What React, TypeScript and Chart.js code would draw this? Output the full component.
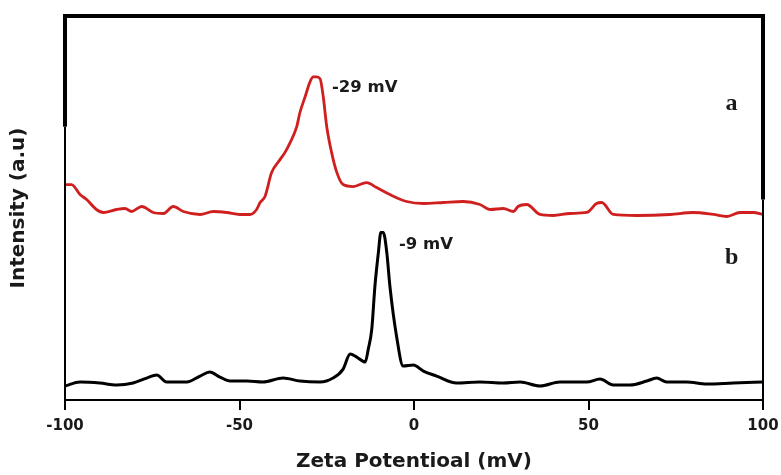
import React, { useEffect, useRef } from "react";
import { Chart, registerables } from "chart.js";

Chart.register(...registerables);

// Curve a (red)
const redX = [-100, -98.1, -95.7, -93.8, -91.0, -89.0, -85.2, -82.8, -80.9, -78.0, -74.7, -71.8, -69.0, -66.1, -61.3, -57.5, -53.7, -49.9, -47.0, -45.1, -44.1, -42.7, -40.8, -38.4, -37.0, -35.5, -33.6, -32.7, -31.2, -29.8, -28.9, -27.9, -26.9, -26.0, -25.0, -23.6, -22.1, -20.3, -17.4, -13.6, -10.7, -6.9, -2.1, 2.7, 8.4, 14.1, 18.9, 21.8, 25.6, 28.5, 29.8, 32.3, 36.1, 39.9, 44.7, 49.5, 52.3, 53.8, 57.1, 63.8, 73.4, 80.0, 85.8, 89.6, 93.4, 97.2, 100];
const redY = [215, 215, 205, 200, 190, 187, 190, 191, 188, 193, 187, 186, 193, 188, 185, 188, 187, 185, 185, 190, 197, 203, 227, 240, 247, 257, 273, 287, 303, 318, 323, 323, 321, 303, 273, 247, 227, 215, 213, 217, 212, 205, 198, 196, 197, 198, 195, 190, 191, 188, 193, 195, 185, 184, 186, 187, 196, 197, 185, 184, 185, 187, 185, 183, 187, 187, 185];

// Curve b (black)
const blackX = [-100, -95.7, -90.0, -85.2, -80.5, -76.6, -73.7, -70.9, -65.1, -61.3, -58.5, -55.6, -52.7, -47.9, -43.3, -37.5, -32.7, -26.9, -23.2, -20.3, -18.3, -16.4, -14.0, -13.1, -12.1, -11.2, -10.2, -9.5, -8.8, -7.8, -6.9, -5.0, -3.1, -0.2, 2.7, 6.5, 12.2, 18.9, 25.6, 30.4, 36.1, 41.8, 49.5, 53.3, 57.1, 61.9, 66.7, 69.5, 72.4, 78.1, 83.9, 91.5, 100];
const blackY = [13, 17, 16, 14, 16, 21, 24, 17, 17, 23, 27, 22, 18, 18, 17, 21, 18, 17, 21, 30, 45, 42, 37, 50, 70, 113, 147, 167, 167, 147, 113, 63, 33, 34, 28, 23, 16, 17, 16, 17, 13, 17, 17, 20, 14, 14, 18, 21, 17, 17, 15, 16, 17];

const xTicks = [-100, -50, 0, 50, 100];

// Annotations
const noteTexts = ["-29 mV", "-9 mV"];
const noteX = [-23.5, -4.3];
const noteY = [308, 150];
const tagTexts = ["a", "b"];
const tagX = [91, 91];
const tagY = [290, 135];

// Frame: thick part of left / right border ends at these y values
const leftThickEnd = 273;
const rightThickEnd = 200;

export default function App() {
  const ref = useRef<HTMLCanvasElement>(null);
  useEffect(() => {
    if (!ref.current) return;
    const framePlugin = {
      id: "framePlugin",
      afterDatasetsDraw(chart: any) {
        const { ctx, chartArea } = chart;
        const ys = chart.scales.y;
        const xs = chart.scales.x;
        const { left, right, top, bottom } = chartArea;
        ctx.save();
        ctx.strokeStyle = "#000";
        ctx.lineCap = "butt";
        ctx.lineWidth = 4;
        ctx.beginPath();
        ctx.moveTo(left - 2, top);
        ctx.lineTo(right + 2, top);
        ctx.stroke();
        const ly = ys.getPixelForValue(leftThickEnd);
        ctx.beginPath();
        ctx.moveTo(left, top);
        ctx.lineTo(left, ly);
        ctx.stroke();
        const ry = ys.getPixelForValue(rightThickEnd);
        ctx.beginPath();
        ctx.moveTo(right, top);
        ctx.lineTo(right, ry);
        ctx.stroke();
        ctx.lineWidth = 2;
        ctx.beginPath();
        ctx.moveTo(left, ly);
        ctx.lineTo(left, bottom);
        ctx.moveTo(right, ry);
        ctx.lineTo(right, bottom);
        ctx.stroke();
        ctx.fillStyle = "#1a1a1a";
        ctx.font = "bold 16.5px 'DejaVu Sans'";
        ctx.textAlign = "left";
        ctx.textBaseline = "alphabetic";
        noteTexts.forEach((t, i) => {
          ctx.fillText(t, xs.getPixelForValue(noteX[i]), ys.getPixelForValue(noteY[i]));
        });
        ctx.font = "bold 24px 'Liberation Serif'";
        ctx.textAlign = "center";
        tagTexts.forEach((t, i) => {
          ctx.fillText(t, xs.getPixelForValue(tagX[i]), ys.getPixelForValue(tagY[i]));
        });
        ctx.restore();
      },
    };

    const chart = new Chart(ref.current, {
      type: "line",
      data: {
        datasets: [
          {
            label: "a",
            data: redX.map((x, i) => ({ x, y: redY[i] })),
            borderColor: "#d01f1f",
            borderWidth: 2.8,
            pointRadius: 0,
            cubicInterpolationMode: "monotone",
            fill: false,
          },
          {
            label: "b",
            data: blackX.map((x, i) => ({ x, y: blackY[i] })),
            borderColor: "#000000",
            borderWidth: 3,
            pointRadius: 0,
            cubicInterpolationMode: "monotone",
            fill: false,
          },
        ],
      },
      options: {
        responsive: false,
        animation: false,
        devicePixelRatio: 1,
        layout: { padding: { left: 0, right: 18, top: 16, bottom: 0 } },
        plugins: { legend: { display: false }, tooltip: { enabled: false } },
        scales: {
          x: {
            type: "linear",
            min: -100,
            max: 100,
            afterBuildTicks: (axis: any) => {
              axis.ticks = xTicks.map((v) => ({ value: v }));
            },
            afterFit: (axis: any) => {
              axis.paddingRight = 0;
            },
            grid: {
              display: true,
              drawOnChartArea: false,
              drawTicks: true,
              tickLength: 10,
              color: "#000",
              lineWidth: 2,
            },
            border: { display: true, color: "#000", width: 2 },
            ticks: {
              padding: 7,
              color: "#1a1a1a",
              font: { family: "'DejaVu Sans'", size: 15, weight: "bold" },
              maxRotation: 0,
            },
            title: {
              display: true,
              text: "Zeta Potentioal (mV)",
              color: "#1a1a1a",
              font: { family: "'DejaVu Sans'", size: 20, weight: "bold" },
              padding: { top: 8, bottom: 1 },
            },
          },
          y: {
            type: "linear",
            min: -1,
            max: 384,
            grid: { display: false, drawTicks: false },
            border: { display: false },
            ticks: { display: false },
            title: {
              display: true,
              text: "Intensity (a.u)",
              color: "#1a1a1a",
              font: { family: "'DejaVu Sans'", size: 20, weight: "bold" },
              padding: { top: 7, bottom: 34 },
            },
          },
        },
      },
      plugins: [framePlugin],
    } as any);
    return () => chart.destroy();
  }, []);
  return (
    <div style={{ position: "fixed", left: 0, top: 0, width: 781, height: 475, background: "#fff" }}>
      <canvas ref={ref} width={781} height={475} style={{ display: "block" }} />
    </div>
  );
}
